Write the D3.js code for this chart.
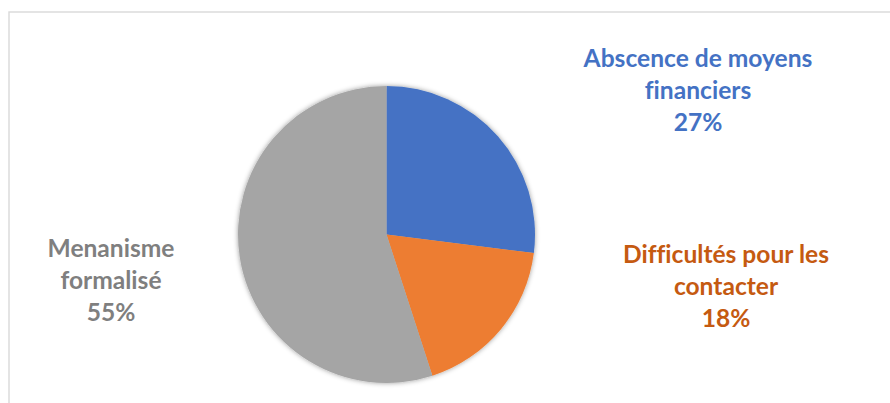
<!DOCTYPE html>
<html>
<head>
<meta charset="utf-8">
<script src="https://cdn.jsdelivr.net/npm/d3@7"></script>
<style>
  html, body { margin: 0; padding: 0; background: #fff; }
  svg { display: block; }
  text { font-variant-ligatures: none; }
</style>
</head>
<body>
<svg id="chart" width="890" height="403"></svg>
<script>
// Slices, in drawing order (clockwise from 12 o'clock)
const categories = ["Abscence de moyens financiers", "Difficultés pour les contacter", "Menanisme formalisé"];
const values = [27, 18, 55];
const labelLines = [
  ["Abscence de moyens", "financiers", "27%"],
  ["Difficultés pour les", "contacter", "18%"],
  ["Menanisme", "formalisé", "55%"]
];
const sliceColors = ["#4472C4", "#ED7D31", "#A5A5A5"];
const labelColors = ["#4472C4", "#C55A11", "#7F7F7F"];

const width = 890, height = 403;
const cx = 386.5, cy = 234.5, radius = 148.5;
const fontFamily = "Lato, 'Open Sans', sans-serif";

const svg = d3.select("#chart");

// Outer frame of the chart area
svg.append("rect")
  .attr("x", 9).attr("y", 12)
  .attr("width", 920).attr("height", 500)
  .attr("fill", "#fff")
  .attr("stroke", "#d9d9d9")
  .attr("stroke-width", 1.4);

// Soft shadow under the pie
const defs = svg.append("defs");
const f = defs.append("filter").attr("id", "pieShadow")
  .attr("x", "-10%").attr("y", "-10%").attr("width", "120%").attr("height", "120%");
f.append("feDropShadow")
  .attr("dx", 0).attr("dy", 0)
  .attr("stdDeviation", 2.6)
  .attr("flood-color", "#000")
  .attr("flood-opacity", 0.4);

const pie = d3.pie().sort(null).value(d => d.value);
const arc = d3.arc().innerRadius(0).outerRadius(radius);
const data = categories.map((c, i) => ({ name: c, value: values[i], color: sliceColors[i] }));

const g = svg.append("g")
  .attr("transform", `translate(${cx},${cy})`)
  .attr("filter", "url(#pieShadow)");

g.selectAll("path")
  .data(pie(data))
  .join("path")
  .attr("d", arc)
  .attr("fill", d => d.data.color);

// Data labels: centre x and first baseline of each block
const labelPos = [
  { x: 698, y: 66.7 },
  { x: 726, y: 262.7 },
  { x: 111, y: 256.7 }
];
const lineGap = 32;

// Size the labels so the widest orange line spans about 206px
const probe = svg.append("text")
  .attr("font-family", fontFamily).attr("font-weight", 700).attr("font-size", 100)
  .text(labelLines[1][0]);
const probeW = probe.node().getComputedTextLength();
probe.remove();
const fontSize = Math.min(30, 100 * 206 / probeW);

labelLines.forEach((lines, i) => {
  const t = svg.append("text")
    .attr("text-anchor", "middle")
    .attr("font-family", fontFamily)
    .attr("font-weight", 700)
    .attr("font-size", fontSize)
    .attr("fill", labelColors[i]);
  lines.forEach((ln, j) => {
    t.append("tspan")
      .attr("x", labelPos[i].x)
      .attr("y", labelPos[i].y + j * lineGap)
      .text(ln);
  });
});
</script>
</body>
</html>
